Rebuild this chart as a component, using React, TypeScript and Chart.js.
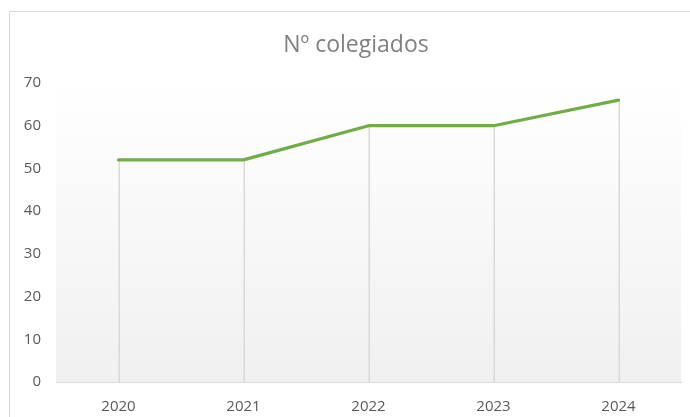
import React, { useEffect, useRef } from "react";
import { Chart, registerables } from "chart.js";

Chart.register(...registerables);

const TITLE = "Nº colegiados";
const categories = ["2020", "2021", "2022", "2023", "2024"];
const colegiados = [52, 52, 60, 60, 66];
const yMin = 0;
const yMax = 70;
const yStep = 10;

const FONT = "'Open Sans', 'Noto Sans', sans-serif";

const framePlugin = {
  id: "frame",
  beforeDraw(chart: any) {
    const { ctx, chartArea, width, height } = chart;
    ctx.save();
    ctx.fillStyle = "#ffffff";
    ctx.fillRect(0, 0, width, height);
    ctx.strokeStyle = "#d9d9d9";
    ctx.lineWidth = 1;
    ctx.strokeRect(9.5, 11.5, width + 50, height + 50);
    const g = ctx.createLinearGradient(0, chartArea.top, 0, chartArea.bottom);
    g.addColorStop(0, "#ffffff");
    g.addColorStop(1, "#f0f0f0");
    ctx.fillStyle = g;
    ctx.fillRect(chartArea.left, chartArea.top, chartArea.right - chartArea.left, chartArea.bottom - chartArea.top);
    ctx.fillStyle = "#808080";
    ctx.font = `23px ${FONT}`;
    ctx.textAlign = "center";
    ctx.textBaseline = "middle";
    ctx.fillText(TITLE, 356, 45);
    ctx.restore();
  },
  beforeDatasetsDraw(chart: any) {
    const { ctx, chartArea } = chart;
    const meta = chart.getDatasetMeta(0);
    ctx.save();
    ctx.strokeStyle = "#d9d9d9";
    ctx.lineWidth = 1.5;
    meta.data.forEach((pt: any) => {
      const x = Math.round(pt.x) + 0.25;
      ctx.beginPath();
      ctx.moveTo(x, pt.y);
      ctx.lineTo(x, chartArea.bottom);
      ctx.stroke();
    });
    ctx.restore();
  },
};

export default function App() {
  const ref = useRef<HTMLCanvasElement | null>(null);
  useEffect(() => {
    if (!ref.current) return;
    const chart = new Chart(ref.current, {
      type: "line",
      data: {
        labels: categories,
        datasets: [
          {
            label: TITLE,
            data: colegiados,
            borderColor: "#70ad47",
            backgroundColor: "#70ad47",
            borderWidth: 3.2,
            pointRadius: 0,
            tension: 0,
            fill: false,
            borderCapStyle: "round",
            borderJoinStyle: "round",
          },
        ],
      },
      options: {
        animation: false,
        responsive: false,
        maintainAspectRatio: false,
        layout: { padding: { top: 83, right: 9, left: 0, bottom: 0 } },
        plugins: {
          legend: { display: false },
          title: { display: false },
          tooltip: { enabled: false },
        },
        scales: {
          x: {
            offset: true,
            grid: { display: false },
            border: { display: true, color: "#d9d9d9", width: 1 },
            ticks: {
              color: "#595959",
              font: { family: FONT, size: 15 },
              padding: 8,
              maxRotation: 0,
            },
            afterFit(scale: any) {
              scale.height = 35;
            },
          },
          y: {
            min: yMin,
            max: yMax,
            grid: { display: false },
            border: { display: false },
            ticks: {
              stepSize: yStep,
              color: "#595959",
              font: { family: FONT, size: 15 },
              padding: 7,
            },
            afterFit(scale: any) {
              scale.width = 56;
            },
          },
        },
      },
      plugins: [framePlugin],
    });
    return () => chart.destroy();
  }, []);
  return (
    <div style={{ position: "fixed", left: 0, top: 0, width: 690, height: 417 }}>
      <canvas ref={ref} width={690} height={417} />
    </div>
  );
}
